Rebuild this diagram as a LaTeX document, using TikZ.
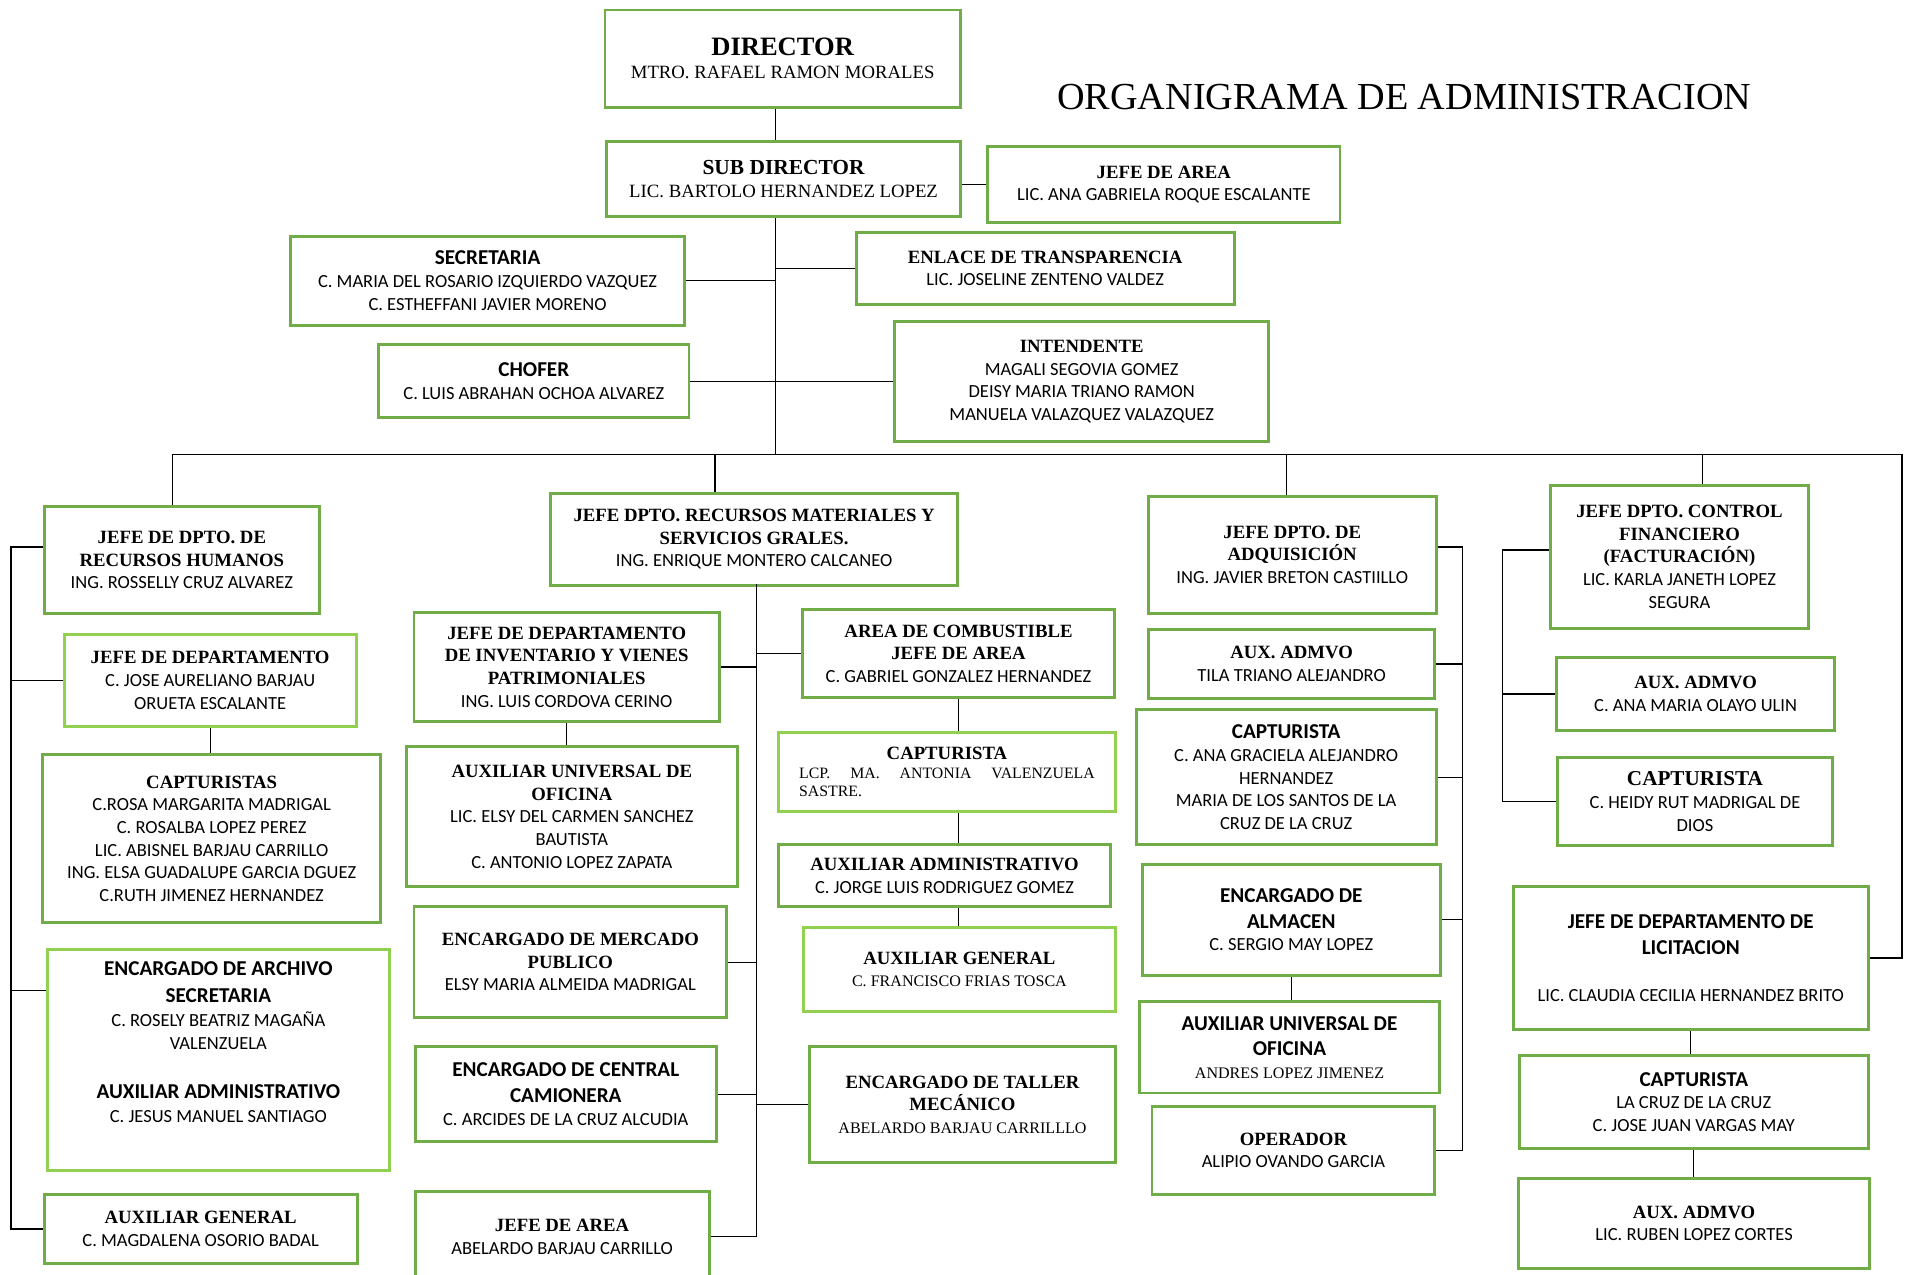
\documentclass[tikz,border=0pt]{standalone}
\usepackage{fontspec}
\setmainfont{Carlito}
\newfontfamily\tnrfont{Liberation Serif}
\usetikzlibrary{calc}

\definecolor{grn}{HTML}{70AD47}
\definecolor{lgrn}{HTML}{92D050}

\newcommand\hdT{\tnrfont\bfseries\fontsize{7.7}{8.8}\selectfont}
\newcommand\hdC{\bfseries\fontsize{8.7}{10.5}\selectfont}
\newcommand\nmC{\fontsize{7.6}{9.3}\selectfont}
\newcommand\nmT{\tnrfont\fontsize{6.6}{9}\selectfont}
\newcommand\nmTl{\tnrfont\fontsize{7.7}{9.3}\selectfont}

\begin{document}
\begin{tikzpicture}[x=0.5pt,y=-0.5pt,
  box/.style={draw=grn,line width=1.2pt,align=center,inner sep=1pt,anchor=north west,font=\nmC},
  lbox/.style={box,draw=lgrn},
  sz/.style 2 args={minimum width=#1*0.5pt,minimum height=#2*0.5pt},
  link/.style={line width=0.5pt}]
  \fill[white] (0,0) rectangle (1568,1047.8);
  \useasboundingbox (0,0) rectangle (1568,1047.8);

  \node[font=\tnrfont\fontsize{15.7}{18}\selectfont] (ttl) at (1154,80) {ORGANIGRAMA DE ADMINISTRACION};

  % direccion
  \node[box,sz={292}{80}] (dir) at (496,7)
    {{\tnrfont\bfseries\fontsize{10.9}{12}\selectfont DIRECTOR}\\{\nmTl MTRO. RAFAEL RAMON MORALES}};
  \node[box,sz={290.5}{62}] (sub) at (497.5,115)
    {{\tnrfont\bfseries\fontsize{8.8}{10}\selectfont SUB DIRECTOR}\\{\nmTl LIC. BARTOLO HERNANDEZ LOPEZ}};
  \node[box,sz={289.5}{63}] (jarea) at (810.5,119) {{\hdT JEFE DE AREA}\\LIC. ANA GABRIELA ROQUE ESCALANTE};
  \node[box,sz={324}{73}] (secr) at (237.5,193)
    {{\hdC SECRETARIA}\\C. MARIA DEL ROSARIO IZQUIERDO VAZQUEZ\\C. ESTHEFFANI JAVIER MORENO};
  \node[box,sz={310.5}{59.4}] (enlace) at (702.5,189.6) {{\hdT ENLACE DE TRANSPARENCIA}\\LIC. JOSELINE ZENTENO VALDEZ};
  \node[box,sz={255}{60}] (chofer) at (310,282) {{\hdC CHOFER}\\C. LUIS ABRAHAN OCHOA ALVAREZ};
  \node[box,sz={307.5}{99}] (intend) at (734,263)
    {{\hdT INTENDENTE}\\MAGALI SEGOVIA GOMEZ\\DEISY MARIA TRIANO RAMON\\MANUELA VALAZQUEZ VALAZQUEZ};

  % jefaturas
  \node[box,sz={226.5}{88}] (rh) at (35,415)
    {{\hdT JEFE DE DPTO. DE}\\{\hdT RECURSOS HUMANOS}\\ING. ROSSELLY CRUZ ALVAREZ};
  \node[box,sz={335}{76}] (rm) at (451,404)
    {{\hdT JEFE DPTO. RECURSOS MATERIALES Y}\\{\hdT SERVICIOS GRALES.}\\ING. ENRIQUE MONTERO CALCANEO};
  \node[box,sz={236.5}{96}] (adq) at (942.5,406.6)
    {{\hdT JEFE DPTO. DE}\\{\hdT ADQUISICIÓN}\\ING. JAVIER BRETON CASTIILLO};
  \node[box,sz={212}{117.4}] (cf) at (1273,397.6)
    {{\hdT JEFE DPTO. CONTROL}\\{\hdT FINANCIERO}\\{\hdT (FACTURACIÓN)}\\LIC. KARLA JANETH LOPEZ\\SEGURA};

  % recursos humanos
  \node[lbox,sz={240}{76}] (jdep) at (51.5,520)
    {{\hdT JEFE DE DEPARTAMENTO}\\C. JOSE AURELIANO BARJAU\\ORUETA ESCALANTE};
  \node[box,sz={277.5}{138}] (capts) at (34,619)
    {{\hdT CAPTURISTAS}\\C.ROSA MARGARITA MADRIGAL\\C. ROSALBA LOPEZ PEREZ\\LIC. ABISNEL BARJAU CARRILLO\\ING. ELSA GUADALUPE GARCIA DGUEZ\\C.RUTH JIMENEZ HERNANDEZ};
  \node[lbox,sz={281.5}{181.5}] (arch) at (37.5,779)
    {{\hdC ENCARGADO DE ARCHIVO}\\[1.8pt]{\hdC SECRETARIA}\\[0.6pt]C. ROSELY BEATRIZ MAGAÑA\\VALENZUELA\\[11pt]{\hdC AUXILIAR ADMINISTRATIVO}\\[0.6pt]C. JESUS MANUEL SANTIAGO\\[5pt]};
  \node[box,sz={257.5}{56.4}] (auxgl) at (35,980.6) {{\hdT AUXILIAR GENERAL}\\C. MAGDALENA OSORIO BADAL};

  % recursos materiales
  \node[box,sz={251}{89.8}] (inv) at (339,502)
    {{\hdT JEFE DE DEPARTAMENTO}\\{\hdT DE INVENTARIO Y VIENES}\\{\hdT PATRIMONIALES}\\ING. LUIS CORDOVA CERINO};
  \node[box,sz={272.5}{115}] (auo) at (332.5,612.6)
    {{\hdT AUXILIAR UNIVERSAL DE}\\{\hdT OFICINA}\\LIC. ELSY DEL CARMEN SANCHEZ\\BAUTISTA\\C. ANTONIO LOPEZ ZAPATA};
  \node[box,sz={257}{91}] (merc) at (339,744)
    {{\hdT ENCARGADO DE MERCADO}\\{\hdT PUBLICO}\\ELSY MARIA ALMEIDA MADRIGAL};
  \node[box,sz={247.5}{78}] (cam) at (340,859)
    {{\hdC ENCARGADO DE CENTRAL}\\[1.2pt]{\hdC CAMIONERA}\\C. ARCIDES DE LA CRUZ ALCUDIA};
  \node[box,sz={241.5}{75}] (jab) at (340,977.6) {{\hdT JEFE DE AREA}\\ABELARDO BARJAU CARRILLO};
  \node[box,sz={257}{72}] (comb) at (658,500)
    {{\hdT AREA DE COMBUSTIBLE}\\{\hdT JEFE DE AREA}\\C. GABRIEL GONZALEZ HERNANDEZ};
  \node[lbox,sz={277}{64.6},text width=121.5pt,align=justify,font=\tnrfont\fontsize{6.5}{7.6}\selectfont] (caplcp) at (638.5,601)
    {\parindent=0pt\makebox[\linewidth]{\hdT CAPTURISTA}\par LCP. MA. ANTONIA VALENZUELA\break SASTRE.};
  \node[box,sz={273}{51}] (auxadm) at (638.5,693) {{\hdT AUXILIAR ADMINISTRATIVO}\\C. JORGE LUIS RODRIGUEZ GOMEZ};
  \node[lbox,sz={256.5}{69}] (auxgm) at (659,761) {{\hdT AUXILIAR GENERAL}\\{\nmT C. FRANCISCO FRIAS TOSCA}};
  \node[box,sz={251.5}{95}] (taller) at (664,859)
    {{\hdT ENCARGADO DE TALLER}\\{\hdT MECÁNICO}\\{\nmT ABELARDO BARJAU CARRILLLO}};

  % adquisicion
  \node[box,sz={235.5}{57}] (tila) at (942.5,516) {{\hdT AUX. ADMVO}\\TILA TRIANO ALEJANDRO};
  \node[box,sz={246.5}{111}] (capag) at (932.5,582)
    {{\hdC CAPTURISTA}\\C. ANA GRACIELA ALEJANDRO\\HERNANDEZ\\MARIA DE LOS SANTOS DE LA\\CRUZ DE LA CRUZ};
  \node[box,sz={245}{91.5}] (alm) at (937.5,709) {{\hdC ENCARGADO DE}\\[1.2pt]{\hdC ALMACEN}\\C. SERGIO MAY LOPEZ};
  \node[box,sz={246}{75}] (andres) at (935.5,822)
    {{\hdC AUXILIAR UNIVERSAL DE}\\[1.2pt]{\hdC OFICINA}\\{\nmT ANDRES LOPEZ JIMENEZ}};
  \node[box,sz={232.5}{72.6}] (oper) at (945.5,908) {{\hdT OPERADOR}\\ALIPIO OVANDO GARCIA};

  % control financiero
  \node[box,sz={228.5}{59.6}] (olayo) at (1278,539.4) {{\hdT AUX. ADMVO}\\C. ANA MARIA OLAYO ULIN};
  \node[box,sz={225.5}{73}] (heidy) at (1279,621)
    {{\tnrfont\bfseries\fontsize{8.7}{10}\selectfont CAPTURISTA}\\C. HEIDY RUT MADRIGAL DE\\DIOS};
  \node[box,sz={291.5}{118}] (lic) at (1242.5,727)
    {{\hdC JEFE DE DEPARTAMENTO DE}\\[1.2pt]{\hdC LICITACION}\\[10pt]LIC. CLAUDIA CECILIA HERNANDEZ BRITO};
  \node[box,sz={286.5}{77}] (caplc) at (1247.5,866) {{\hdC CAPTURISTA}\\LA CRUZ DE LA CRUZ\\C. JOSE JUAN VARGAS MAY};
  \node[box,sz={289}{73.4}] (ruben) at (1246.5,967.6) {{\hdT AUX. ADMVO}\\LIC. RUBEN LOPEZ CORTES};

  % lineas
  \coordinate (tk) at (637.5,373.5);
  \draw[link] (tk|-dir.south) -- (tk|-sub.north);
  \draw[link] (tk|-sub.south) -- (tk);
  \draw[link] (jarea.west-|sub.east) -- (jarea.west);
  \foreach \n/\a in {secr/east,chofer/east,enlace/west,intend/west}
    \draw[link] (\n.\a) -- (\n.\a-|tk);

  \coordinate (bL) at (141.5,373.5);
  \coordinate (bM) at (587.5,373.5);
  \coordinate (bA) at (1057,373.5);
  \coordinate (bF) at (1399,373.5);
  \coordinate (bR) at (1563,373.5);
  \draw[link] (bL) -- (bR) |- (lic.east);
  \foreach \b/\n in {bL/rh,bM/rm,bA/adq,bF/cf}
    \draw[link] (\b) -- (\b|-\n.north);

  \coordinate (lH) at (9,449.5);
  \draw[link] (rh.west|-lH) -- (lH) |- (auxgl.west);
  \draw[link] (jdep.west) -- (jdep.west-|lH);
  \path ($(arch.north west)!0.19!(arch.south west)$) coordinate (aW);
  \draw[link] (aW) -- (aW-|lH);
  \draw[link] (jdep.south) -- (jdep.south|-capts.north);

  \coordinate (mV) at (621.5,480);
  \draw[link] (mV) -- (mV|-jab.east);
  \foreach \n in {inv,merc,cam,jab}
    \draw[link] (\n.east) -- (\n.east-|mV);
  \foreach \n in {comb,taller}
    \draw[link] (\n.west) -- (\n.west-|mV);
  \draw[link] (inv.south) -- (inv.south|-auo.north);
  \foreach \a/\b in {comb/caplcp,caplcp/auxadm,auxadm/auxgm}
    \draw[link] (comb.south|-\a.south) -- (comb.south|-\b.north);

  \coordinate (aV) at (1202,449.6);
  \draw[link] (adq.east|-aV) -- (aV) |- (oper.east);
  \foreach \n in {tila,capag,alm}
    \draw[link] (\n.east) -- (\n.east-|aV);
  \draw[link] (alm.south) -- (alm.south|-andres.north);

  \coordinate (fV) at (1235,452);
  \draw[link] (cf.west|-fV) -- (fV) |- (heidy.west);
  \draw[link] (olayo.west) -- (olayo.west-|fV);
  \draw[link] (lic.south) -- (lic.south|-caplc.north);
  \draw[link] (caplc.south) -- (caplc.south|-ruben.north);
\end{tikzpicture}
\end{document}
